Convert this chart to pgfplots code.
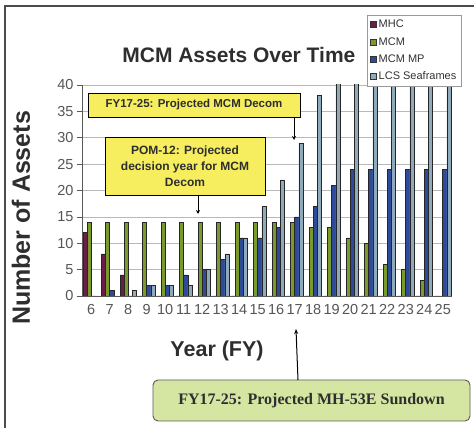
\documentclass[border=0pt]{standalone}
\usepackage{fontspec}
\setmainfont{Liberation Sans}
\newfontfamily\serifb{Liberation Serif}
\usepackage{pgfplots}
\pgfplotsset{compat=1.18}
\usepackage{pgfplotstable}
\usetikzlibrary{arrows.meta}

\definecolor{cMHC}{HTML}{6A1E45}
\definecolor{cMCM}{HTML}{7A9A2C}
\definecolor{cMP}{HTML}{2D4B9A}
\definecolor{cLCS}{HTML}{8FAABA}
\definecolor{boxyellow}{HTML}{F6EE5E}
\definecolor{boxgreen}{HTML}{D5E6A2}
\definecolor{txt}{HTML}{2E2E2E}
\definecolor{tick}{HTML}{555555}

\pgfplotstableread{
year MHC MCM MP LCS
6  12 14 0  0
7  8  14 1  0
8  4  14 0  1
9  0  14 2  2
10 0  14 2  2
11 0  14 4  2
12 0  14 5  5
13 0  14 7  8
14 0  14 11 11
15 0  14 11 17
16 0  14 13 22
17 0  14 15 29
18 0  13 17 38
19 0  13 21 44
20 0  11 24 47
21 0  10 24 50
22 0  6  24 52
23 0  5  24 54
24 0  3  24 55
25 0  0  24 55
}\assets

\begin{document}
\begin{tikzpicture}[x=1pt,y=1pt]
\path[use as bounding box] (0,0) rectangle (474,428);
\draw[gray!60!black, line width=1.5pt] (5,0) -- (5,422) -- (474,422);
\begin{axis}[
  at={(82pt,132pt)}, anchor=south west,
  scale only axis, width=370pt, height=211pt,
  ybar=0pt, bar width=4.1pt,
  xmin=5.5, xmax=25.5, ymin=0, ymax=40,
  xtick={6,...,25}, ytick={0,5,...,40},
  axis x line*=bottom, axis y line*=left,
  axis line style={-, draw=gray!70!black, line width=0.8pt},
  ymajorgrids, grid style={gray!55, line width=0.6pt},
  tick align=outside, major tick length=5pt,
  xtick style={draw=none},
  ytick style={draw=gray!70!black, line width=0.6pt},
  ticklabel style={font=\fontsize{14.5}{15}\selectfont, text=tick},
  /pgf/number format/assume math mode=true,
  title={MCM Assets Over Time},
  title style={at={(axis description cs:0.424,1.112)}, anchor=center, font=\bfseries\fontsize{21}{24}\selectfont, text=txt},
  xlabel={Year (FY)},
  xlabel style={at={(axis description cs:0.365,-0.262)}, anchor=center, font=\bfseries\fontsize{21.5}{24}\selectfont, text=txt},
  ylabel={Number of Assets},
  ylabel style={at={(axis description cs:-0.165,0.370)}, anchor=center, font=\bfseries\fontsize{25}{28}\selectfont, text=txt},
  legend style={at={(rel axis cs:0.77,1.332)}, anchor=north west, draw=gray!80, fill=white,
    font=\fontsize{11}{12}\selectfont, text=gray!40!black, row sep=4pt, inner sep=3pt,
    /tikz/every even column/.append style={column sep=2pt}},
  legend cell align=left,
  legend image code/.code={\draw[#1,draw=black!80,line width=0.6pt] (0pt,-3pt) rectangle (6pt,3pt);},
]
\addplot[fill=cMHC, draw=black!85, line width=0.55pt] table[x=year,y=MHC] {\assets};
\addplot[fill=cMCM, draw=black!85, line width=0.55pt] table[x=year,y=MCM] {\assets};
\addplot[fill=cMP, draw=black!85, line width=0.55pt] table[x=year,y=MP] {\assets};
\addplot[fill=cLCS, draw=black!85, line width=0.55pt] table[x=year,y=LCS] {\assets};
\legend{MHC, MCM, MCM MP, LCS Seaframes}
\end{axis}
% annotations
\node[draw=black, fill=boxyellow, line width=0.8pt, minimum width=212pt, minimum height=24pt,
  inner sep=0pt, font=\bfseries\fontsize{11.5}{13}\selectfont, text=txt] at (194,323) {FY17-25: Projected MCM Decom};
\draw[line width=1pt, -{Stealth[length=4pt,width=4pt]}] (294,311) -- (294,288);
\node[draw=black, fill=boxyellow, line width=0.8pt, minimum width=160pt, minimum height=58pt,
  inner sep=0pt, align=center, font=\bfseries\fontsize{12}{16}\selectfont, text=txt] at (185,262) {POM-12: Projected\\decision year for MCM\\Decom};
\draw[line width=1pt, -{Stealth[length=4pt,width=4pt]}] (198,233) -- (198,214);
\node[draw=gray!70!black, fill=boxgreen, line width=0.9pt, rounded corners=5pt, minimum width=317pt, minimum height=41pt,
  inner sep=0pt, font=\serifb\bfseries\fontsize{16}{18}\selectfont, text=txt] at (311.5,27.5) {FY17-25: Projected MH-53E Sundown};
\draw[line width=1pt, -{Stealth[length=5pt,width=4pt]}] (298,48) -- (296,99);
\end{tikzpicture}
\end{document}
